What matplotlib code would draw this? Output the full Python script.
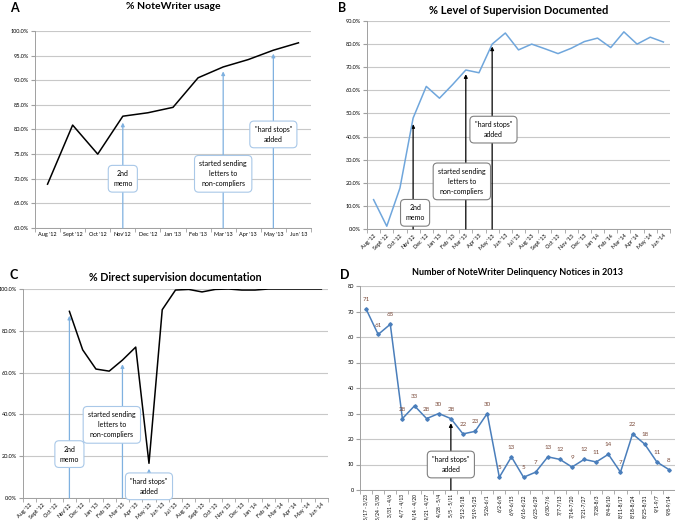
import matplotlib
matplotlib.use("Agg")
import matplotlib.pyplot as plt
from matplotlib.ticker import FuncFormatter

plt.rcParams['font.family'] = ['Lato', 'DejaVu Sans']

# ---- data ----
months_a = ["Aug '12", "Sept '12", "Oct '12", "Nov'12", "Dec '12", "Jan '13",
            "Feb '13", "Mar '13", "Apr '13", "May '13", "Jun' 13"]
usage_a = [68.9, 80.9, 75.0, 82.7, 83.4, 84.5, 90.5, 92.7, 94.2, 96.1, 97.6]

months_bc = ["Aug '12", "Sept '12", "Oct '12", "Nov'12", "Dec '12", "Jan '13",
             "Feb '13", "Mar '13", "Apr '13", "May '13", "Jun '13", "Jul '13",
             "Aug '13", "Sept '13", "Oct '13", "Nov '13", "Dec '13", "Jan '14",
             "Feb '14", "Mar '14", "Apr '14", "May '14", "Jun '14"]
level_b = [12.7, 1.2, 17.7, 48.0, 61.7, 56.6, 62.5, 68.8, 67.6, 80.0, 84.8, 77.5,
           80.0, 78.0, 75.9, 78.2, 81.1, 82.6, 78.5, 85.3, 80.0, 83.0, 80.9]
direct_c = [None, None, None, 89.3, 70.9, 61.7, 60.7, 66.0, 72.2, 16.6, 90.1, 99.5,
            99.8, 98.6, 99.8, 100.0, 99.5, 99.5, 100.0, 100.0, 100.0, 100.0, 100.0]

weeks_d = ["3/17 - 3/23", "3/24 - 3/30", "3/31 - 4/6", "4/7 - 4/13", "4/14 - 4/20",
           "4/21 - 4/27", "4/28 - 5/4", "5/5 - 5/11", "5/12-5/18", "5/19-5/25",
           "5/26-6/1", "6/2-6/8", "6/9-6/15", "6/16-6/22", "6/23-6/29", "6/30-7/6",
           "7/7-7/13", "7/14-7/20", "7/21-7/27", "7/28-8/3", "8/4-8/10", "8/11-8/17",
           "8/18-8/24", "8/25-8/31", "9/1-9/7", "9/8-9/14"]
notices_d = [71, 61, 65, 28, 33, 28, 30, 28, 22, 23, 30, 5, 13, 5, 7, 13, 12, 9,
             12, 11, 14, 7, 22, 18, 11, 8]

W, H = 675, 520
fig = plt.figure(figsize=(W / 100, H / 100), dpi=100)


def rect(x0, y0, x1, y1):
    return [x0 / W, 1 - y1 / H, (x1 - x0) / W, (y1 - y0) / H]


GRID = '#c8c8c8'
ARROW_BLUE = '#7fb1e0'
BOX_BLUE = '#a9c8e8'


def style(ax, labels, ylim, yticks, fmt, rot=0, xfs=4):
    n = len(labels)
    ax.set_xlim(-0.5, n - 0.5)
    ax.set_ylim(*ylim)
    ax.set_yticks(yticks)
    ax.yaxis.set_major_formatter(FuncFormatter(fmt))
    ax.set_xticks(range(n))
    if rot == 0:
        ax.set_xticklabels(labels, fontsize=xfs)
    elif rot == 90:
        ax.set_xticklabels(labels, fontsize=xfs, rotation=90, va='top', ha='center')
    else:
        ax.set_xticklabels(labels, fontsize=xfs, rotation=rot, ha='right',
                           rotation_mode='anchor')
    ax.set_xticks([i - 0.5 for i in range(n + 1)], minor=True)
    ax.tick_params(axis='x', which='major', length=0, pad=3)
    ax.tick_params(axis='x', which='minor', length=3, color='#a0a0a0')
    ax.tick_params(axis='y', labelsize=4, length=3, color='#a0a0a0', pad=1.5)
    for s in ['top', 'right']:
        ax.spines[s].set_visible(False)
    for s in ['left', 'bottom']:
        ax.spines[s].set_color('#a0a0a0')
        ax.spines[s].set_linewidth(0.7)
    ax.grid(axis='y', color=GRID, lw=0.8)
    ax.set_axisbelow(True)


def note(ax, x, tip, base, tx, ty, text, color, box_edge):
    ax.annotate('', xy=(x, tip), xytext=(x, base),
                arrowprops=dict(arrowstyle='-|>', color=color, lw=0.9,
                                mutation_scale=5, shrinkA=0, shrinkB=0),
                zorder=3)
    ax.text(tx, ty, text, fontsize=5, ha='center', va='center', zorder=5,
            linespacing=1.5,
            bbox=dict(boxstyle='round,pad=0.7,rounding_size=0.6', fc='white',
                      ec=box_edge, lw=0.8))


pct1 = lambda v, p: f"{v:.1f}%"

# ---- A ----
axA = fig.add_axes(rect(35, 31, 311, 228))
style(axA, months_a, (60, 100), range(60, 101, 5), pct1)
axA.plot(range(len(usage_a)), usage_a, color='black', lw=1.1, zorder=4)
note(axA, 3, 81.4, 60, 3, 70.0, "2nd\nmemo", ARROW_BLUE, BOX_BLUE)
note(axA, 7, 91.8, 60, 7, 71.0, "started sending\nletters to\nnon-compliers", ARROW_BLUE, BOX_BLUE)
note(axA, 9, 95.4, 60, 9, 79.0, "\"hard stops\"\nadded", ARROW_BLUE, BOX_BLUE)
axA.set_title("% NoteWriter usage", fontsize=7.5, fontweight='bold', pad=16)
fig.text(10 / W, 1 - 8 / H, "A", fontsize=9, fontweight='bold', va='center')

# ---- B ----
axB = fig.add_axes(rect(367, 21, 670, 229))
style(axB, months_bc, (0, 90), range(0, 91, 10), pct1, rot=45)
axB.plot(range(len(level_b)), level_b, color='#6fa6dc', lw=1.1, zorder=4)
note(axB, 3, 45.4, 0, 3.15, 7.0, "2nd\nmemo", 'black', '#808080')
note(axB, 7, 67.0, 0, 6.7, 20.6, "started sending\nletters to\nnon-compliers", 'black', '#808080')
note(axB, 9, 79.0, 0, 9.1, 43.0, "\"hard stops\"\nadded", 'black', '#808080')
axB.set_title("% Level of Supervision Documented", fontsize=8, fontweight='bold', pad=5)
fig.text(338 / W, 1 - 8 / H, "B", fontsize=9, fontweight='bold', va='center')

# ---- C ----
axC = fig.add_axes(rect(23, 289, 328, 498))
style(axC, months_bc, (0, 100), range(0, 101, 20), pct1, rot=45)
xc = [i for i, v in enumerate(direct_c) if v is not None]
yc = [v for v in direct_c if v is not None]
axC.plot(xc, yc, color='black', lw=1.1, zorder=4)
note(axC, 3, 87.2, 0, 3, 21.0, "2nd\nmemo", ARROW_BLUE, BOX_BLUE)
note(axC, 7, 64.0, 0, 6.2, 35.0, "started sending\nletters to\nnon-compliers", ARROW_BLUE, BOX_BLUE)
note(axC, 9, 14.0, 9.0, 9, 5.6, "\"hard stops\"\nadded", ARROW_BLUE, BOX_BLUE)
axC.set_title("% Direct supervision documentation", fontsize=7.7, fontweight='bold', pad=6)
fig.text(10 / W, 1 - 275 / H, "C", fontsize=9, fontweight='bold', va='center')

# ---- D ----
axD = fig.add_axes(rect(360, 286, 675, 490))
style(axD, weeks_d, (0, 80), range(0, 81, 10), lambda v, p: f"{v:.0f}", rot=90, xfs=3.5)
xd = range(len(notices_d))
axD.plot(xd, notices_d, color='#4a7ebb', lw=1.1, marker='D', ms=1.8, zorder=4)
for x, v in zip(xd, notices_d):
    axD.annotate(str(v), (x, v), xytext=(0, 5), textcoords='offset points',
                 ha='center', va='bottom', fontsize=4.5, color='#7a4a3a', zorder=6)
note(axD, 7, 26.2, 0, 7, 10.0, "\"hard stops\"\nadded", 'black', '#808080')
axD.set_title("Number of NoteWriter Delinquency Notices in 2013", fontsize=6.5,
              fontweight='bold', pad=8)
fig.text(340 / W, 1 - 275 / H, "D", fontsize=9, fontweight='bold', va='center')

fig.savefig("out.png", dpi=100)
